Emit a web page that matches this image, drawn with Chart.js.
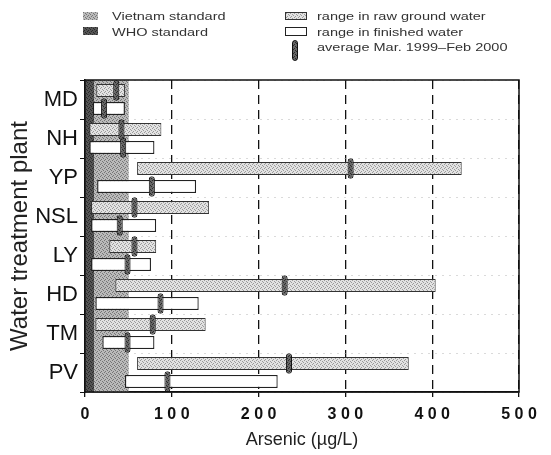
<!DOCTYPE html>
<html>
<head>
<meta charset="utf-8">
<script src="https://cdn.jsdelivr.net/npm/chart.js@4"></script>
<style>
body { margin: 0; background: #fff; }
#wrap { position: relative; width: 551px; height: 455px; }
#legend { position: absolute; left: 0; top: 0; width: 551px; height: 70px;
  font-family: "Liberation Sans", Arial, sans-serif; font-size: 11px; color: #333; }
.sw { position: absolute; box-sizing: border-box; }
.lt { position: absolute; white-space: nowrap; line-height: 12px;
  transform: scaleX(1.32); transform-origin: 0 50%; }
</style>
</head>
<body>
<div id="wrap">
  <canvas id="chart" width="551" height="455"></canvas>
  <div id="legend">
    <div class="sw" id="swVn" style="left:83px;top:12px;width:15px;height:8px"></div>
    <div class="lt" style="left:112px;top:10px">Vietnam standard</div>
    <div class="sw" id="swWho" style="left:83px;top:27px;width:15px;height:8px"></div>
    <div class="lt" style="left:112px;top:26px">WHO standard</div>
    <div class="sw" id="swRaw" style="left:285px;top:12px;width:22px;height:8px;border:1px solid #333"></div>
    <div class="lt" style="left:317px;top:10px">range in raw ground water</div>
    <div class="sw" style="left:285px;top:27px;width:22px;height:9px;border:1px solid #222;background:#fff"></div>
    <div class="lt" style="left:317px;top:26px">range in finished water</div>
    <div class="sw" id="swAvg" style="left:292px;top:40px;width:6px;height:21px;border:1px solid #111;border-radius:3px"></div>
    <div class="lt" style="left:317px;top:41px">average Mar. 1999–Feb 2000</div>
  </div>
</div>
<script>
// plants and arsenic values (ug/L)
var plants = ['MD', 'NH', 'YP', 'NSL', 'LY', 'HD', 'TM', 'PV'];
var rawMin = [13, 5, 60, 7, 28, 35, 12, 60];
var rawMax = [46, 88, 434, 143, 82, 404, 139, 373];
var rawAvg = [36, 42, 306, 57, 57, 230, 78, 235];
var finMin = [9, 5, 14, 7, 7, 12, 20, 46];
var finMax = [46, 80, 128, 82, 76, 131, 80, 222];
var finAvg = [22, 44, 77, 40, 49, 87, 49, 95];
var vietnamStd = 50;
var whoStd = 10;
var xTicks = [0, 100, 200, 300, 400, 500];

var FONT = '"Liberation Sans", Arial, sans-serif';
Chart.defaults.font.family = FONT;

// little stipple textures, like the scanned print
function stipple(base, dot) {
  var c = document.createElement('canvas');
  c.width = 4; c.height = 4;
  var g = c.getContext('2d');
  g.fillStyle = base; g.fillRect(0, 0, 4, 4);
  g.fillStyle = dot;
  g.fillRect(0, 0, 1, 1); g.fillRect(2, 1, 1, 1);
  g.fillRect(1, 3, 1, 1); g.fillRect(3, 2, 1, 1);
  return c;
}
var cnv = document.getElementById('chart');
var ctx = cnv.getContext('2d');
var texRaw = stipple('#e2e2e2', '#9a9a9a');
var texVn = stipple('#bababa', '#767676');
var texWho = stipple('#555', '#2a2a2a');
var texAvg = stipple('#666', '#2a2a2a');

document.getElementById('swVn').style.background = 'url(' + texVn.toDataURL() + ')';
document.getElementById('swWho').style.background = 'url(' + texWho.toDataURL() + ')';
document.getElementById('swRaw').style.background = 'url(' + texRaw.toDataURL() + ')';
document.getElementById('swAvg').style.background = 'url(' + texAvg.toDataURL() + ')';

function range(lo, hi) {
  return lo.map(function (v, i) { return [v, hi[i]]; });
}
function marks(avg) {
  return avg.map(function (v) { return [v - 3.5, v + 3.5]; });
}
function band(w) {
  return plants.map(function () { return [0, w]; });
}

var frame = {
  id: 'frame',
  afterDatasetsDraw: function (chart) {
    var a = chart.chartArea, c = chart.ctx;
    c.save();
    c.strokeStyle = '#111';
    c.lineWidth = 1.5;
    c.strokeRect(a.left, a.top, a.right - a.left, a.bottom - a.top);
    c.restore();
  }
};

new Chart(cnv, {
  type: 'bar',
  data: {
    labels: plants,
    datasets: [
      { label: 'range in raw ground water', data: range(rawMin, rawMax), stack: 'raw',
        backgroundColor: ctx.createPattern(texRaw, 'repeat'), borderColor: '#333', borderWidth: 1,
        borderSkipped: false, categoryPercentage: 0.92, barPercentage: 0.72, order: 5 },
      { label: 'range in finished water', data: range(finMin, finMax), stack: 'fin',
        backgroundColor: '#fff', borderColor: '#222', borderWidth: 1.3,
        borderSkipped: false, categoryPercentage: 0.92, barPercentage: 0.72, order: 5 },
      { label: 'average raw', data: marks(rawAvg), stack: 'raw',
        backgroundColor: ctx.createPattern(texAvg, 'repeat'), borderColor: '#111', borderWidth: 1,
        borderRadius: 3, borderSkipped: false, categoryPercentage: 0.92, barPercentage: 1.15, order: 0 },
      { label: 'average finished', data: marks(finAvg), stack: 'fin',
        backgroundColor: ctx.createPattern(texAvg, 'repeat'), borderColor: '#111', borderWidth: 1,
        borderRadius: 3, borderSkipped: false, categoryPercentage: 0.92, barPercentage: 1.15, order: 0 },
      { label: 'Vietnam standard', data: band(vietnamStd), grouped: false,
        backgroundColor: ctx.createPattern(texVn, 'repeat'), borderWidth: 0,
        categoryPercentage: 1, barPercentage: 1, order: 10 },
      { label: 'WHO standard', data: band(whoStd), grouped: false,
        backgroundColor: ctx.createPattern(texWho, 'repeat'), borderWidth: 0,
        categoryPercentage: 1, barPercentage: 1, order: 9 }
    ]
  },
  options: {
    indexAxis: 'y',
    responsive: false,
    animation: false,
    layout: { padding: { top: 80, right: 32, left: 0, bottom: 0 } },
    plugins: { legend: { display: false }, tooltip: { enabled: false } },
    scales: {
      x: {
        type: 'linear', stacked: false, min: xTicks[0], max: xTicks[xTicks.length - 1],
        afterBuildTicks: function (s) { s.ticks = xTicks.map(function (v) { return { value: v }; }); },
        ticks: {
          color: '#111', padding: 8, font: { size: 16, weight: 'bold' },
          callback: function (v) { return String(v).split('').join(' '); }
        },
        grid: { color: '#111', lineWidth: 1.3, tickColor: '#111', tickLength: 5 },
        border: { display: true, color: '#111', width: 1.5, dash: [9, 6] },
        title: { display: true, text: 'Arsenic (µg/L)', color: '#222', font: { size: 18 },
          padding: { top: 2, bottom: 4 } },
        afterFit: function (s) { s.height = 63; }
      },
      y: {
        type: 'category', offset: true,
        ticks: { color: '#111', padding: 2, font: { size: 22 } },
        grid: { offset: true, color: '#b5b5b5', lineWidth: 1, tickColor: '#111', tickLength: 5 },
        border: { display: true, color: '#111', width: 1.5, dash: [1, 6] },
        title: { display: true, text: 'Water treatment plant', color: '#222', font: { size: 24 },
          padding: { top: 6, bottom: 0 } },
        afterFit: function (s) { s.width = 85; }
      }
    }
  },
  plugins: [frame]
});
</script>
</body>
</html>
